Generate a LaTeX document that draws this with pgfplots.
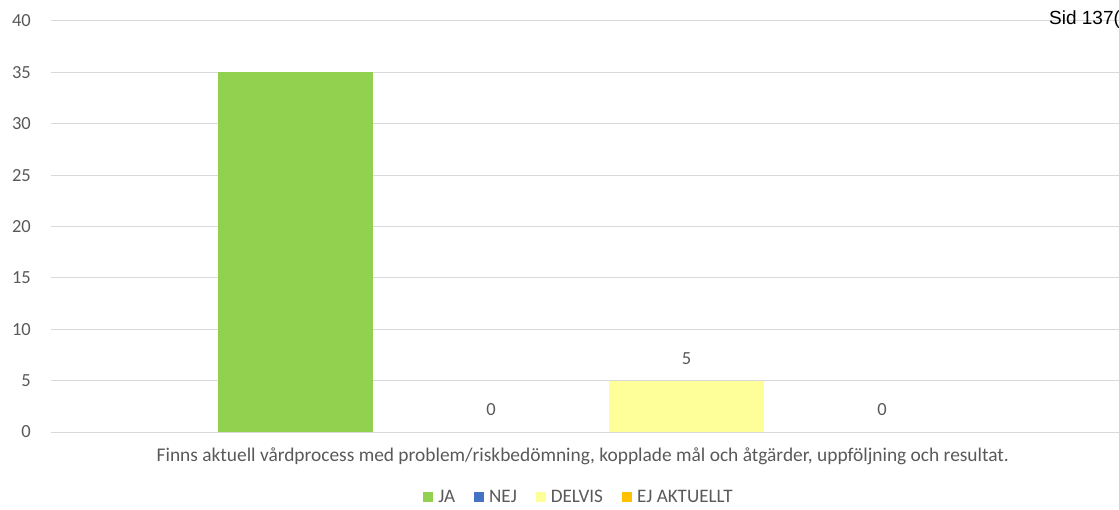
\documentclass[border=0pt]{standalone}
\usepackage{pgfplots}
\pgfplotsset{compat=1.18}
\usepackage{fontspec}
\setmainfont{Carlito}
\newfontfamily\arialf{Liberation Sans}
\definecolor{txt}{HTML}{595959}
\definecolor{gridc}{HTML}{D9D9D9}
\definecolor{jagreen}{HTML}{92D050}
\definecolor{nejblue}{HTML}{4472C4}
\definecolor{delyel}{HTML}{FFFF99}
\definecolor{ejorange}{HTML}{FFC000}
\begin{document}
\begin{tikzpicture}
\begin{axis}[
  at={(0pt,0pt)}, anchor=south west,
  scale only axis, width=1068pt, height=411pt,
  xmin=-0.2506, xmax=5.212, ymin=0, ymax=40,
  ytick={0,5,...,40}, xtick=\empty,
  ymajorgrids, grid style={draw=gridc, line width=1pt},
  axis line style={draw=none},
  major tick length=0pt,
  tick label style={font=\fontsize{18.5}{20}\selectfont, text=txt},
  /pgf/number format/assume math mode=true,
  yticklabel style={inner sep=0pt, xshift=-20pt},
  ybar, bar width=155pt, bar shift=0pt,
  xlabel={Finns aktuell vårdprocess med problem/riskbedömning, kopplade mål och åtgärder, uppföljning och resultat.},
  xlabel style={at={(axis description cs:0.498,0)}, anchor=center, yshift=-24pt, font=\fontsize{19.4}{22}\selectfont, text=txt},
  nodes near coords style={font=\fontsize{18.5}{20}\selectfont, text=txt, anchor=south, inner sep=0pt, yshift=16pt},
  legend columns=4,
  legend style={at={(axis description cs:0.4934,-0.158)}, anchor=center, draw=none, fill=none,
    font=\fontsize{19.1}{22}\selectfont, text=txt,
    /tikz/every even column/.append style={column sep=19pt},
    /tikz/every odd column/.append style={column sep=5pt},
    nodes={inner sep=0pt}},
]
\addplot[fill=jagreen, draw=none,
  legend image code/.code={\fill[jagreen] (0pt,-5pt) rectangle (10pt,5pt);}] coordinates {(1,35)};
\addlegendentry{JA}
\addplot[fill=none, draw=none, nodes near coords,
  legend image code/.code={\fill[nejblue] (0pt,-5pt) rectangle (10pt,5pt);}] coordinates {(2,0)};
\addlegendentry{NEJ}
\addplot[fill=delyel, draw=none, nodes near coords,
  legend image code/.code={\fill[delyel] (0pt,-5pt) rectangle (10pt,5pt);}] coordinates {(3,5)};
\addlegendentry{DELVIS}
\addplot[fill=none, draw=none, nodes near coords,
  legend image code/.code={\fill[ejorange] (0pt,-5pt) rectangle (10pt,5pt);}] coordinates {(4,0)};
\addlegendentry{EJ AKTUELLT}
\end{axis}
\node[anchor=base west, font=\arialf\fontsize{19}{22}\selectfont, text=black, inner sep=0pt] at (998pt,407pt) {Sid 137(};
\pgfresetboundingbox
\path[use as bounding box] (-51pt,-77pt) rectangle (1068pt,432pt);
\end{tikzpicture}
\end{document}
